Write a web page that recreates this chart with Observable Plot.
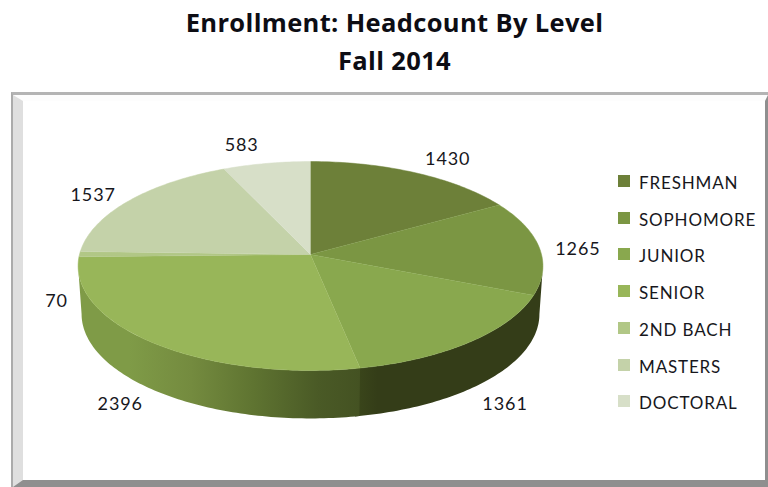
<!DOCTYPE html>
<html>
<head>
<meta charset="utf-8">
<script src="https://cdn.jsdelivr.net/npm/d3@7"></script>
<script src="https://cdn.jsdelivr.net/npm/@observablehq/plot@0.6"></script>
<style>
  html, body { margin: 0; padding: 0; background: #fff; width: 768px; height: 487px; overflow: hidden; }
  body { position: relative; font-family: Lato, "Open Sans", sans-serif; color: #17171c; }
  .title { position: absolute; left: 0; width: 789px; text-align: center; font-family: "Open Sans", sans-serif; font-weight: 700; font-size: 25.5px; line-height: 38px; top: 3px; color: #0d0d14; letter-spacing: .35px; }
  .outer { position: absolute; left: 11px; top: 92px; width: 757px; height: 395px; box-sizing: border-box; border-top: 3px solid #b4b4b4; border-left: 2px solid #ababab; }
  .frame { position: relative; width: 100%; height: 100%; box-sizing: border-box; background: #fff;
           border-style: solid; border-width: 6px 3px 7px 10px;
           border-color: #fdfdfd #8f8f8f #8f8f8f #dfdfdf; }
  #chart { position: absolute; left: -1px; top: -1px; }
  #chart text { letter-spacing: .9px; }
  .legend { position: absolute; left: 595px; top: 71px; }
  .item { position: absolute; left: 0; white-space: nowrap; font-size: 17px; line-height: 20px; letter-spacing: .85px; }
  .item i { position: absolute; left: 0; top: 3px; width: 12px; height: 12px; }
  .item span { position: absolute; left: 21px; top: 1px; }
</style>
</head>
<body>
<div class="title">Enrollment: Headcount By Level<br>Fall 2014</div>
<div class="outer"><div class="frame"><div id="chart"></div><div class="legend" id="legend"></div></div></div>
<script>
const titleLines = ["Enrollment: Headcount By Level", "Fall 2014"];
const levels = ["FRESHMAN", "SOPHOMORE", "JUNIOR", "SENIOR", "2ND BACH", "MASTERS", "DOCTORAL"];
const headcount = [1430, 1265, 1361, 2396, 70, 1537, 583];
const colors = ["#6d8039", "#7b9643", "#89a84e", "#98b659", "#b1c786", "#c4d2a9", "#d7dfc8"];
// small nudges of each value label, in pie units
const labelNudgeX = [0.05, -0.03, 0.01, 0, 0.1, 0, -0.07];
const labelNudgeY = [-0.01, 0.03, 0.01, 0.01, 0.46, 0.03, -0.04];

// Projection of the pie disc
const tilt = 0.11, rimDepth = 0.465, rimShrink = 0.985;
const silhouette = Math.acos(-tilt) * 180 / Math.PI;
const proj = (deg) => {
  const a = deg * Math.PI / 180, u = Math.sin(a), v = -Math.cos(a), w = 1 - tilt * v;
  return {x: u / w, y: v / w, v};
};
const total = d3.sum(headcount);
let running = 0;
const slices = headcount.map((value, i) => {
  const start = running / total * 360;
  running += value;
  return {level: levels[i], value, color: colors[i], start, end: running / total * 360};
});
const arcPoints = (a0, a1, f = (p) => p) => {
  const n = Math.max(2, Math.ceil(Math.abs(a1 - a0)));
  return d3.range(n + 1).map((k) => f(proj(a0 + (a1 - a0) * k / n)));
};
const topPoly = (s) => [{x: 0, y: 0}, ...arcPoints(s.start, s.end)];
const rimPoly = (a0, a1) => [
  ...arcPoints(a0, a1),
  ...arcPoints(a1, a0, (p) => ({x: p.x * rimShrink, y: p.y + rimDepth}))
];
const juniorEnd = slices[2].end;
const labels = slices.map((s, i) => {
  const p = proj((s.start + s.end) / 2);
  return {
    text: String(s.value),
    x: p.x * 1.2 + labelNudgeX[i],
    y: p.y * 1.15 + (p.v > 0 ? rimDepth : 0) + labelNudgeY[i]
  };
});

const defs = () => {
  const d = d3.create("svg:defs");
  const add = (id, stops) => {
    const g = d.append("linearGradient").attr("id", id).attr("x1", 0).attr("x2", 1).attr("y1", 0).attr("y2", 0);
    stops.forEach(([o, c]) => g.append("stop").attr("offset", o).attr("stop-color", c));
  };
  add("rimSenior", [[0, "#7f9b47"], [0.18, "#7f9b47"], [0.4, "#748b3f"], [0.62, "#5f7431"], [0.85, "#4a5a26"], [1, "#445222"]]);
  add("rimDark", [[0, "#3b471b"], [0.12, "#343d18"], [1, "#343d18"]]);
  return d.node();
};

const chart = Plot.plot({
  width: 742, height: 380, margin: 0,
  style: {background: "transparent", overflow: "visible"},
  x: {axis: null, domain: [-1, 1], range: [57, 519]},
  y: {axis: null, domain: [-1, 1], range: [50.8, 257.2]},
  marks: [
    defs,
    Plot.line(rimPoly(juniorEnd + 1, silhouette), {x: "x", y: "y", fill: "url(#rimDark)", stroke: "none"}),
    Plot.line(rimPoly(360 - silhouette, juniorEnd), {x: "x", y: "y", fill: "url(#rimSenior)", stroke: "none"}),
    ...slices.map((s) => Plot.line(topPoly(s), {x: "x", y: "y", fill: s.color, stroke: s.color, strokeWidth: 0.5})),
    Plot.text(labels, {x: "x", y: "y", text: "text", fontSize: 18, fontFamily: "Lato, 'Open Sans', sans-serif", fill: "#17171c"})
  ]
});
document.getElementById("chart").append(chart);

const legend = d3.select("#legend");
slices.forEach((s, i) => {
  const it = legend.append("div").attr("class", "item").style("top", (i * 36.7) + "px");
  it.append("i").style("background", s.color);
  it.append("span").text(s.level);
});
</script>
</body>
</html>
